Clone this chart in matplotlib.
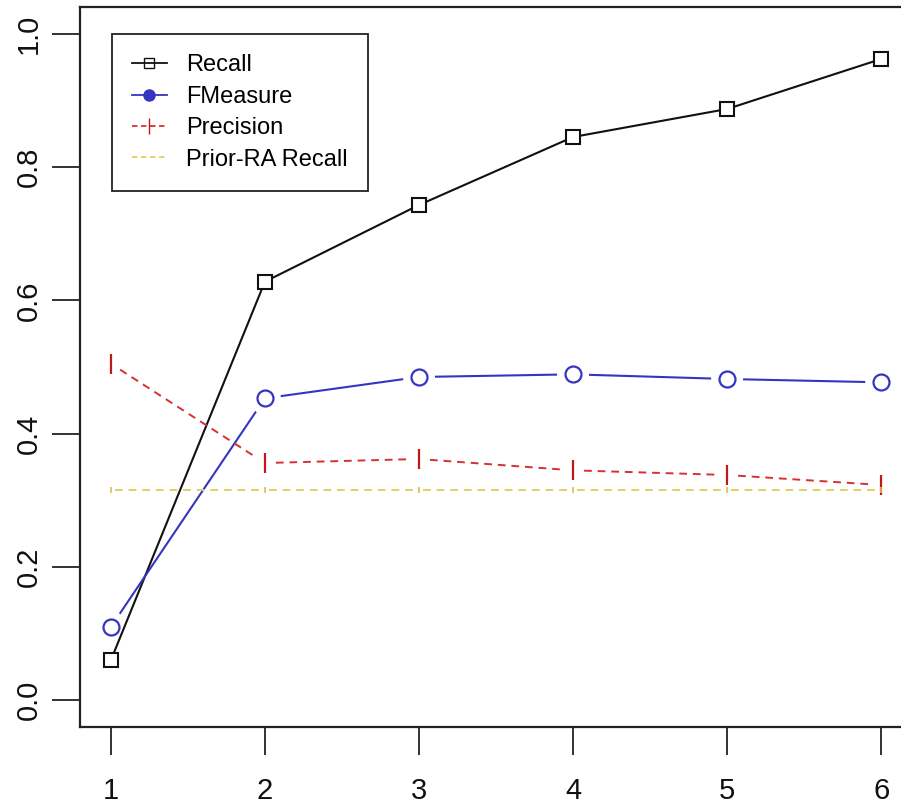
import numpy as np
import matplotlib
matplotlib.use("Agg")
import matplotlib.pyplot as plt

x = [1, 2, 3, 4, 5, 6]
recall = [0.06, 0.628, 0.743, 0.845, 0.887, 0.962]
fmeasure = [0.11, 0.453, 0.485, 0.489, 0.482, 0.477]
precision = [0.505, 0.356, 0.362, 0.345, 0.338, 0.323]
prior_recall = [0.315, 0.315, 0.315, 0.315, 0.315, 0.315]

plt.rcParams['font.family'] = ['Liberation Sans', 'DejaVu Sans']

fig = plt.figure(figsize=(9.01, 8.05), dpi=100)
ax = fig.add_axes([80 / 901, 1 - 727 / 805, 832 / 901, 720 / 805])
ax.set_xlim(0.8, 6.2)
ax.set_ylim(-0.04, 1.04)


def gapped(xs, ys, gap, **kw):
    # R type="b": line segments stop short of the points
    pts = ax.transData.transform(np.column_stack([xs, ys]))
    inv = ax.transData.inverted()
    for a, b in zip(pts[:-1], pts[1:]):
        d = b - a
        n = np.hypot(*d)
        if n <= 2 * gap:
            continue
        u = d / n
        seg = inv.transform(np.array([a + u * gap, b - u * gap]))
        ax.plot(seg[:, 0], seg[:, 1], **kw)


gapped(x, recall, 9, color='#111111', lw=1.5)
ax.plot(x, recall, ls='none', marker='s', ms=9.5, mfc='none', mec='#111111', mew=1.5)
gapped(x, fmeasure, 17, color='#3535c0', lw=1.5)
ax.plot(x, fmeasure, ls='none', marker='o', ms=11.5, mfc='none', mec='#3535c0', mew=1.6)
gapped(x, precision, 11, color='#d83030', lw=1.4, ls=(0, (4, 3)))
ax.plot(x, precision, ls='none', marker='|', ms=14, mec='#c01818', mew=1.6)
gapped(x, prior_recall, 4, color='#e2d060', lw=1.4, ls=(0, (4, 3)))
ax.plot(x, prior_recall, ls='none', marker='|', ms=5, mec='#d8c050', mew=1.2)

# legend handles
h1, = ax.plot([], [], color='#111111', lw=1.3, marker='s', ms=7, mfc='none')
h2, = ax.plot([], [], color='#3535c0', lw=1.3, marker='o', ms=8)
h3, = ax.plot([], [], color='#d83030', lw=1.3, ls=(0, (3, 2)), marker='|', ms=12, mec='#c01818')
h4, = ax.plot([], [], color='#e2d060', lw=1.3, ls=(0, (3, 2)))
leg = ax.legend([h1, h2, h3, h4], ['Recall', 'FMeasure', 'Precision', 'Prior-RA Recall'],
                loc='upper left', bbox_to_anchor=(0.038, 0.962), borderaxespad=0,
                fontsize=17, labelspacing=0.4, handlelength=1.5, handletextpad=0.8,
                borderpad=0.85, fancybox=False, framealpha=1, edgecolor='#222222')
leg.get_frame().set_linewidth(1.3)

ax.set_xticks(x)
ax.set_yticks([0.0, 0.2, 0.4, 0.6, 0.8, 1.0])
ax.set_yticklabels(['0.0', '0.2', '0.4', '0.6', '0.8', '1.0'], rotation=90, va='center')
ax.tick_params(axis='both', length=20, width=1.4, labelsize=21, color='#333333', labelcolor='#111111')
ax.tick_params(axis='x', pad=16)
ax.tick_params(axis='y', pad=7)
for s in ax.spines.values():
    s.set_linewidth(1.6)
    s.set_color('#222222')

fig.savefig('out.png', dpi=100)
